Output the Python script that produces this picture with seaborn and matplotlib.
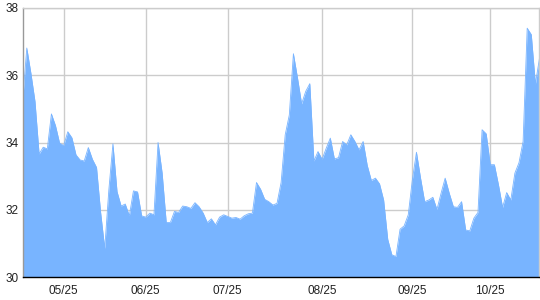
import matplotlib
matplotlib.use("Agg")
import matplotlib.pyplot as plt
from matplotlib.ticker import MultipleLocator, FixedLocator
import seaborn as sns
import pandas as pd
import numpy as np

values = [
    35.27, 36.81, 36.06, 35.22, 33.66, 33.86, 33.81, 34.85, 34.50, 33.98,
    33.91, 34.32, 34.14, 33.63, 33.48, 33.45, 33.85, 33.50, 33.26, 31.92,
    30.85, 32.59, 33.96, 32.54, 32.11, 32.17, 31.82, 32.56, 32.53, 31.82,
    31.78, 31.90, 31.85, 34.00, 33.09, 31.62, 31.62, 31.95, 31.92, 32.11,
    32.09, 32.04, 32.21, 32.09, 31.90, 31.62, 31.73, 31.55, 31.78, 31.85,
    31.80, 31.75, 31.77, 31.72, 31.82, 31.88, 31.90, 32.81, 32.61, 32.31,
    32.24, 32.14, 32.19, 32.81, 34.23, 34.82, 36.64, 35.92, 35.15, 35.52,
    35.75, 33.45, 33.73, 33.50, 33.83, 34.13, 33.51, 33.55, 34.03, 33.93,
    34.23, 34.03, 33.78, 34.03, 33.32, 32.87, 32.94, 32.77, 32.29, 31.12,
    30.66, 30.61, 31.42, 31.52, 31.85, 32.89, 33.71, 32.94, 32.24, 32.29,
    32.37, 32.01, 32.49, 32.94, 32.49, 32.09, 32.07, 32.24, 31.40, 31.37,
    31.75, 31.92, 34.38, 34.26, 33.34, 33.34, 32.74, 32.07, 32.51, 32.29,
    33.09, 33.40, 34.03, 37.40, 37.21, 35.74, 36.51,
]
tick_index = [10, 30, 50, 73, 95, 114]
tick_labels = ["05/25", "06/25", "07/25", "08/25", "09/25", "10/25"]
y_ticks = [30, 32, 34, 36, 38]

df = pd.DataFrame({"idx": np.arange(len(values)), "value": values})

sns.set_style("white")
plt.rcParams["font.family"] = ["Liberation Sans", "DejaVu Sans"]

fig = plt.figure(figsize=(5.4, 3.0), dpi=100)
ax = fig.add_axes([22.7 / 540, 1 - 277 / 300, (539.5 - 22.7) / 540, (277 - 8) / 300])

fill_color = "#78b4ff"
ax.fill_between(df["idx"], 30, df["value"], color=fill_color, linewidth=0, zorder=2)
sns.lineplot(data=df, x="idx", y="value", ax=ax, color=fill_color, linewidth=0.6, zorder=3)

ax.set_xlim(0, len(values) - 1)
ax.set_ylim(30, 38)
ax.xaxis.set_major_locator(FixedLocator(tick_index))
ax.set_xticklabels(tick_labels)
ax.xaxis.set_minor_locator(MultipleLocator(1))
ax.set_yticks(y_ticks)
ax.set_yticklabels([str(t) for t in y_ticks])
ax.set_xlabel("")
ax.set_ylabel("")

ax.grid(True, which="major", color="#cccccc", linewidth=1.0, zorder=0)
ax.set_axisbelow(True)

ax.tick_params(axis="x", which="both", direction="out", length=3.5, width=1,
               color="black", labelsize=8.5, pad=2, labelcolor="#222222")
ax.tick_params(axis="y", which="both", length=0, labelsize=8.5, pad=3, labelcolor="#222222")

for side in ["top", "right"]:
    ax.spines[side].set_color("#cccccc")
    ax.spines[side].set_linewidth(1)
ax.spines["left"].set_color("#999999")
ax.spines["left"].set_linewidth(1)
ax.spines["bottom"].set_color("black")
ax.spines["bottom"].set_linewidth(1)
for s in ax.spines.values():
    s.set_zorder(5)

fig.savefig("out.png", dpi=100)
